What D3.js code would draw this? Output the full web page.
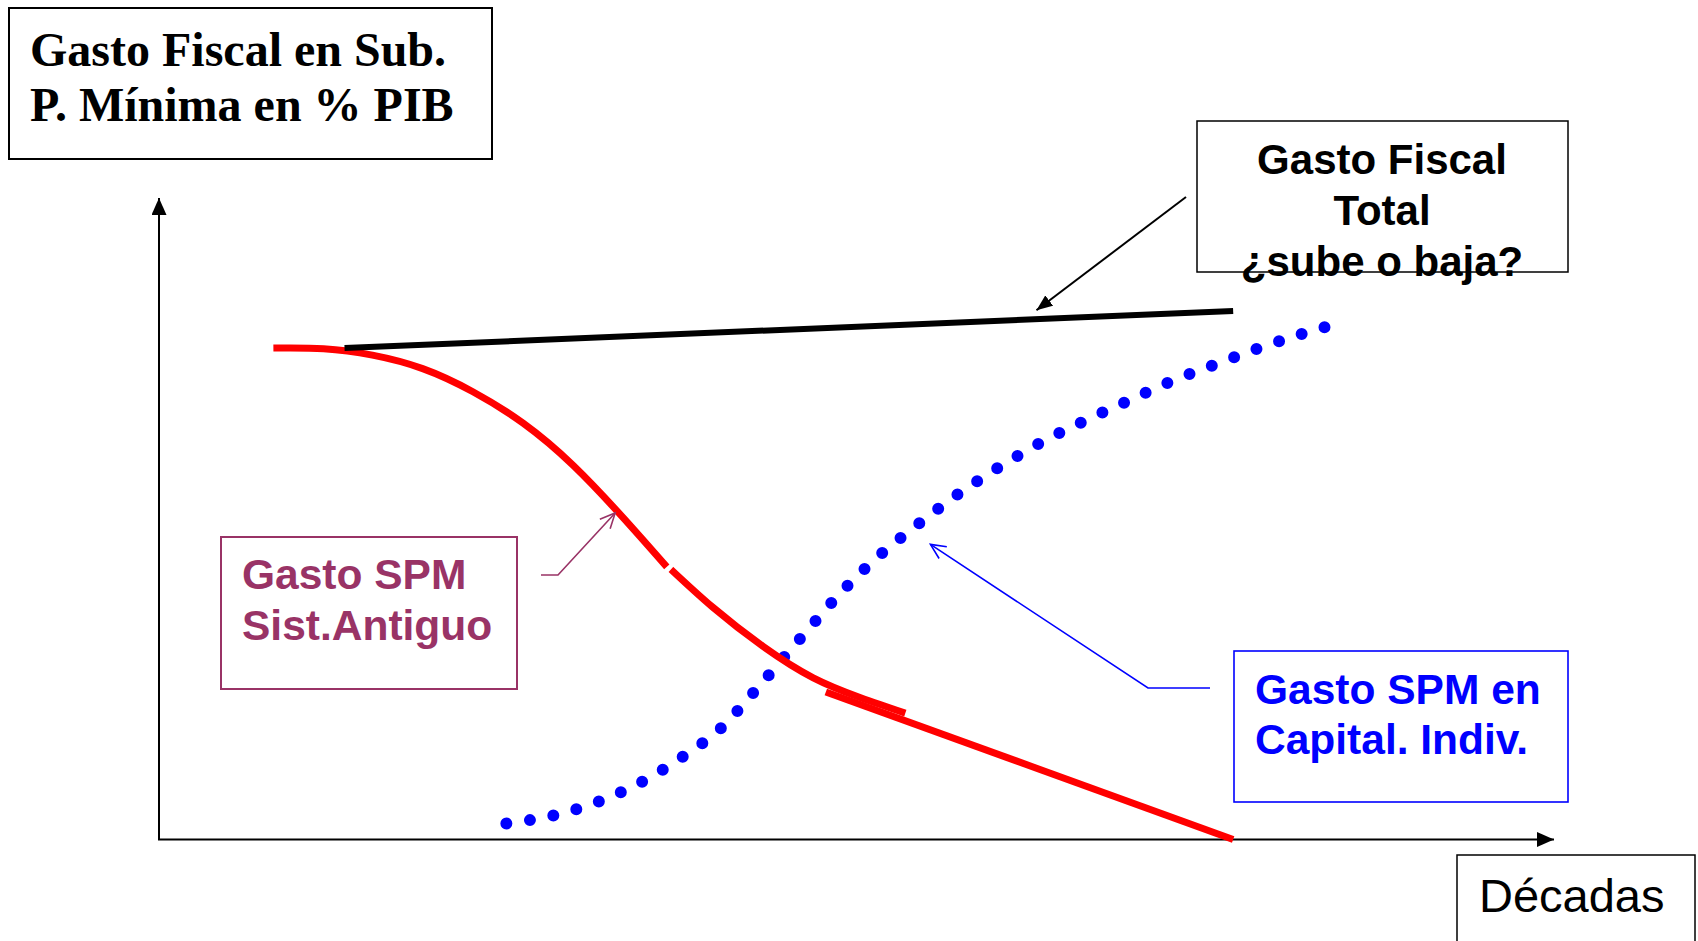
<!DOCTYPE html>
<html>
<head>
<meta charset="utf-8">
<script src="https://cdn.jsdelivr.net/npm/d3@7"></script>
<style>
  html, body { margin: 0; padding: 0; background: #fff; }
  svg { display: block; }
</style>
</head>
<body>
<div id="chart"></div>
<script>
// ── Data (x: décadas 0-100, y: % PIB 0-100, conceptual units) ──
const gastoTotal = [[13.3, 76.6], [77.0, 82.4]];

// old-system curve is drawn in three strokes, as in the original slide
const spmAntiguoA = [[8.2, 76.6], [11.8, 76.5], [15.3, 75.5], [18.9, 73.4],
                     [22.5, 69.8], [26.1, 64.9], [29.7, 58.3], [33.3, 50.1],
                     [36.4, 42.5]];
const spmAntiguoB = [[36.7, 42.1], [39.7, 36.2], [43.3, 30.1], [46.9, 25.2],
                     [50.3, 22.1], [53.5, 19.7]];
const spmAntiguoC = [[47.8, 23.0], [77.0, 0.0]];

const spmCapital = [[24.9, 2.5], [28.2, 3.7], [31.5, 5.9], [34.7, 9.1],
                    [37.6, 13.0], [40.4, 17.6], [42.7, 23.1], [44.8, 28.4],
                    [46.8, 33.4], [49.1, 39.0], [51.6, 44.2], [54.2, 48.8],
                    [57.0, 53.4], [59.9, 57.6], [62.9, 61.5], [66.0, 64.9],
                    [69.1, 68.0], [72.2, 71.1], [75.4, 73.8], [78.6, 76.4],
                    [81.9, 78.8], [83.6, 79.9]];
const capitalDots = 42;

const titleLines    = ['Gasto Fiscal en Sub.', 'P. Mínima en % PIB'];
const totalLines    = ['Gasto Fiscal', 'Total', '¿sube o baja?'];
const antiguoLines  = ['Gasto SPM', 'Sist.Antiguo'];
const capitalLines  = ['Gasto SPM en', 'Capital. Indiv.'];
const xLabel        = 'Décadas';

const W = 1698, H = 941;
const serif = '"Liberation Serif", "Times New Roman", serif';
const sans  = '"Liberation Sans", Arial, sans-serif';
const purple = '#993366';

const svg = d3.select('#chart').append('svg')
  .attr('width', W).attr('height', H);

const x = d3.scaleLinear().domain([0, 100]).range([159, 1554]);
const y = d3.scaleLinear().domain([0, 100]).range([839.5, 198]);

// ── Markers ──
const defs = svg.append('defs');
function filledArrow(id, len, wid) {
  defs.append('marker').attr('id', id)
    .attr('markerUnits', 'userSpaceOnUse')
    .attr('viewBox', `0 0 ${len} ${wid}`)
    .attr('refX', len).attr('refY', wid / 2)
    .attr('markerWidth', len).attr('markerHeight', wid)
    .attr('orient', 'auto')
    .append('path').attr('d', `M0,0L${len},${wid / 2}L0,${wid}Z`).attr('fill', '#000');
}
function openArrow(id, color) {
  defs.append('marker').attr('id', id)
    .attr('markerUnits', 'userSpaceOnUse')
    .attr('viewBox', '-1 -1 18 16')
    .attr('refX', 15).attr('refY', 7)
    .attr('markerWidth', 18).attr('markerHeight', 16)
    .attr('orient', 'auto')
    .append('path').attr('d', 'M0,0L15,7L0,14')
    .attr('fill', 'none').attr('stroke', color).attr('stroke-width', 1.6);
}
filledArrow('axisArrow', 17, 15);
filledArrow('blackArrow', 16, 13);
openArrow('purpleArrow', purple);
openArrow('blueArrow', '#0000ff');

// ── Axes ──
svg.append('line')
  .attr('x1', x(0)).attr('y1', y(0)).attr('x2', x(0)).attr('y2', y(100))
  .attr('stroke', '#000').attr('stroke-width', 2)
  .attr('marker-end', 'url(#axisArrow)');
svg.append('line')
  .attr('x1', x(0) - 1).attr('y1', y(0)).attr('x2', x(100)).attr('y2', y(0))
  .attr('stroke', '#000').attr('stroke-width', 2)
  .attr('marker-end', 'url(#axisArrow)');

// ── Series ──
const smooth = d3.line().x(d => x(d[0])).y(d => y(d[1])).curve(d3.curveNatural);
const mono   = d3.line().x(d => x(d[0])).y(d => y(d[1])).curve(d3.curveMonotoneX);
const straight = d3.line().x(d => x(d[0])).y(d => y(d[1]));

const blue = svg.append('path').datum(spmCapital)
  .attr('fill', 'none').attr('stroke', '#0000ff')
  .attr('stroke-width', 12).attr('stroke-linecap', 'round')
  .attr('d', mono);
const len = blue.node().getTotalLength();
blue.attr('stroke-dasharray', `0 ${len / (capitalDots - 1) - 0.02}`);

[spmAntiguoA, spmAntiguoB, spmAntiguoC].forEach(seg => {
  svg.append('path').datum(seg)
    .attr('fill', 'none').attr('stroke', '#ff0000')
    .attr('stroke-width', 7)
    .attr('d', seg.length > 2 ? smooth : straight);
});

svg.append('path').datum(gastoTotal)
  .attr('fill', 'none').attr('stroke', '#000')
  .attr('stroke-width', 6)
  .attr('d', straight);

// ── Label boxes ──
function box(x0, y0, w, h, color, sw) {
  svg.append('rect')
    .attr('x', x0).attr('y', y0).attr('width', w).attr('height', h)
    .attr('fill', 'none').attr('stroke', color).attr('stroke-width', sw);
}
function lines(arr, tx, baselines, opts) {
  arr.forEach((t, i) => {
    svg.append('text')
      .attr('x', tx).attr('y', baselines[i])
      .attr('text-anchor', opts.anchor || 'start')
      .attr('font-family', opts.family)
      .attr('font-weight', opts.weight || 'bold')
      .attr('font-size', opts.size)
      .attr('fill', opts.color || '#000')
      .text(t);
  });
}

// y title
box(9, 8, 483, 151, '#000', 2);
lines(titleLines, 30, [66, 121], { family: serif, size: 48 });

// total box + arrow
box(1197, 121, 371, 151, '#000', 1.5);
lines(totalLines, 1382, [174, 225, 276], { family: sans, size: 42, anchor: 'middle' });
svg.append('line')
  .attr('x1', 1186).attr('y1', 197).attr('x2', x(62.9)).attr('y2', y(82.5))
  .attr('stroke', '#000').attr('stroke-width', 2)
  .attr('marker-end', 'url(#blackArrow)');

// old system box + leader
box(221, 537, 296, 152, purple, 2);
lines(antiguoLines, 242, [589, 640], { family: sans, size: 42.5, color: purple });
svg.append('path')
  .attr('d', `M541,575H558L${x(32.7)},${y(50.9)}`)
  .attr('fill', 'none').attr('stroke', purple).attr('stroke-width', 1.6)
  .attr('marker-end', 'url(#purpleArrow)');

// capital box + leader
box(1234, 651, 334, 151, '#0000ff', 1.6);
lines(capitalLines, 1255, [704, 754], { family: sans, size: 42.5, color: '#0000ff' });
svg.append('path')
  .attr('d', `M1210,688H1148L${x(55.3)},${y(46.0)}`)
  .attr('fill', 'none').attr('stroke', '#0000ff').attr('stroke-width', 1.6)
  .attr('marker-end', 'url(#blueArrow)');

// x label
box(1457, 855, 238, 100, '#000', 1.5);
lines([xLabel], 1479, [912], { family: sans, size: 47, weight: 'normal' });
</script>
</body>
</html>
